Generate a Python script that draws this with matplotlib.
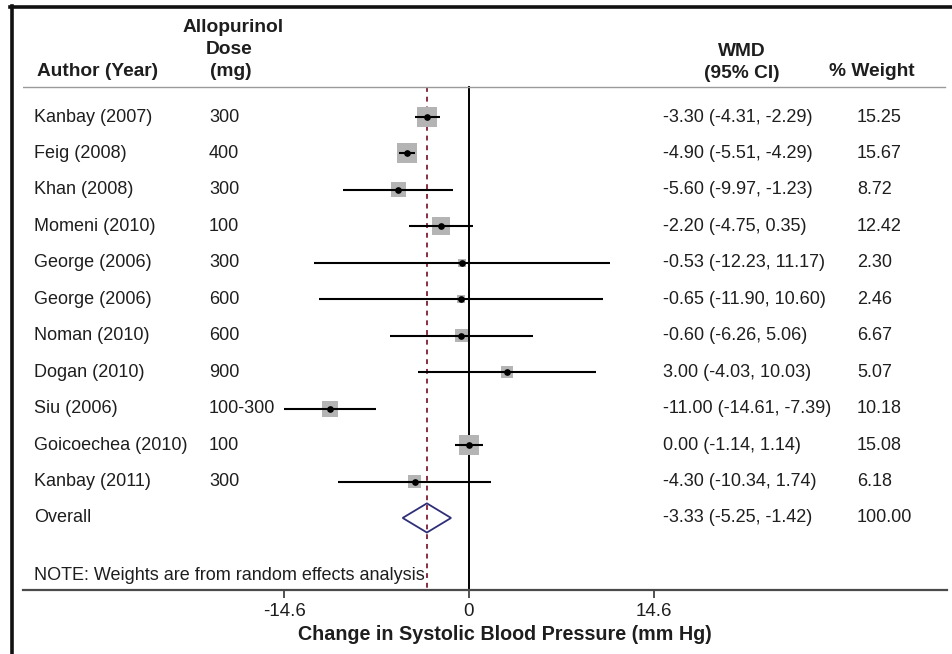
import numpy as np
import matplotlib
matplotlib.use("Agg")
import matplotlib.pyplot as plt
from matplotlib.lines import Line2D
from matplotlib.transforms import blended_transform_factory

plt.rcParams['font.family'] = ['Liberation Sans', 'DejaVu Sans']

# study data
authors = ["Kanbay (2007)", "Feig (2008)", "Khan (2008)", "Momeni (2010)",
           "George (2006)", "George (2006)", "Noman (2010)", "Dogan (2010)",
           "Siu (2006)", "Goicoechea (2010)", "Kanbay (2011)"]
doses = ["300", "400", "300", "100", "300", "600", "600", "900",
         "100-300", "100", "300"]
wmd = [-3.30, -4.90, -5.60, -2.20, -0.53, -0.65, -0.60, 3.00, -11.00, 0.00, -4.30]
ci_low = [-4.31, -5.51, -9.97, -4.75, -12.23, -11.90, -6.26, -4.03, -14.61, -1.14, -10.34]
ci_high = [-2.29, -4.29, -1.23, 0.35, 11.17, 10.60, 5.06, 10.03, -7.39, 1.14, 1.74]
weights = [15.25, 15.67, 8.72, 12.42, 2.30, 2.46, 6.67, 5.07, 10.18, 15.08, 6.18]

overall_wmd = -3.33
overall_low = -5.25
overall_high = -1.42
overall_weight = 100.00

ticks = [-14.6, 0, 14.6]

# layout (pixels of the 952x654 image)
W, H = 952, 654
ax_left_px, ax_right_px = 23, 947
zero_px, px_per_unit = 469, 12.64
row0_px, row_step = 117, 36.45

fig = plt.figure(figsize=(W / 100, H / 100), dpi=100)
ax = fig.add_axes([ax_left_px / W, 0, (ax_right_px - ax_left_px) / W, 1])
ax.set_xlim((ax_left_px - zero_px) / px_per_unit, (ax_right_px - zero_px) / px_per_unit)
ax.set_ylim((H - row0_px) / row_step, -row0_px / row_step)

def px_row(y):
    return (y - row0_px) / row_step

def fx(x):
    # pixel x -> axes fraction
    return (x - ax_left_px) / (ax_right_px - ax_left_px)

rows = np.arange(len(authors))
n = len(authors)
axis_row = px_row(590)
head_row = px_row(87)

tc = '#1e1e1e'
tr = blended_transform_factory(ax.transAxes, ax.transData)

# reference lines
ax.plot([0, 0], [head_row, axis_row], color='black', lw=1.4, zorder=2)
ax.plot([overall_wmd, overall_wmd], [head_row, axis_row], color='#8a2e42',
        lw=1.4, ls=(0, (2.5, 2.5)), zorder=2)

# squares sized by weight
side_px = 5.05 * np.sqrt(weights)
ax.scatter(wmd, rows, marker='s', s=(side_px * 0.72) ** 2, color='#b4b4b4',
           edgecolors='none', zorder=3)
ax.hlines(rows, ci_low, ci_high, color='black', lw=1.5, zorder=4)
ax.plot(wmd, rows, 'o', color='black', ms=3.8, zorder=5)

# overall diamond
dh = 0.4
ax.fill([overall_low, overall_wmd, overall_high, overall_wmd],
        [n, n - dh, n, n + dh], facecolor='none', edgecolor='#2f2f78', lw=1.3, zorder=5)

# table text
fs = 13
for i in range(n):
    ax.text(fx(34), i, authors[i], transform=tr, fontsize=fs, color=tc, va='center')
    ax.text(fx(209), i, doses[i], transform=tr, fontsize=fs, color=tc, va='center')
    ax.text(fx(663), i, f"{wmd[i]:.2f} ({ci_low[i]:.2f}, {ci_high[i]:.2f})",
            transform=tr, fontsize=fs, color=tc, va='center')
    ax.text(fx(857), i, f"{weights[i]:.2f}", transform=tr, fontsize=fs, color=tc, va='center')
ax.text(fx(34), n, "Overall", transform=tr, fontsize=fs, color=tc, va='center')
ax.text(fx(663), n, f"{overall_wmd:.2f} ({overall_low:.2f}, {overall_high:.2f})",
        transform=tr, fontsize=fs, color=tc, va='center')
ax.text(fx(857), n, f"{overall_weight:.2f}", transform=tr, fontsize=fs, color=tc, va='center')
ax.text(fx(34), px_row(576), "NOTE: Weights are from random effects analysis",
        transform=tr, fontsize=fs, color=tc, va='center')

# headers
hfs = 13.8
hk = dict(transform=tr, fontsize=hfs, color=tc, fontweight='bold', va='center')
ax.text(fx(37), px_row(72), "Author (Year)", **hk)
ax.text(fx(233), px_row(27), "Allopurinol", ha='center', **hk)
ax.text(fx(229), px_row(50), "Dose", ha='center', **hk)
ax.text(fx(210), px_row(72), "(mg)", **hk)
ax.text(fx(742), px_row(52), "WMD", ha='center', **hk)
ax.text(fx(742), px_row(73), "(95% CI)", ha='center', **hk)
ax.text(fx(829), px_row(72), "% Weight", **hk)

ax.plot([ax.get_xlim()[0], ax.get_xlim()[1] - 2 / px_per_unit], [head_row, head_row],
        color='#9a9a9a', lw=1.0)

# x axis
for s in ['top', 'left', 'right']:
    ax.spines[s].set_visible(False)
ax.spines['bottom'].set_position(('data', axis_row))
ax.spines['bottom'].set_color('#4a4a4a')
ax.spines['bottom'].set_linewidth(1.6)
ax.set_yticks([])
ax.set_xticks(ticks)
ax.set_xticklabels(['-14.6', '0', '14.6'])
ax.tick_params(axis='x', direction='out', length=6, width=1.2, color='#333333',
               labelsize=13.5, labelcolor=tc, pad=3)
ax.patch.set_visible(False)
ax.text(fx(505), px_row(634), "Change in Systolic Blood Pressure (mm Hg)", transform=tr,
        fontsize=14.2, fontweight='bold', color=tc, ha='center', va='center')

# outer frame (left and top only)
fig.add_artist(Line2D([11.5 / W, 11.5 / W], [0, 1 - 6 / H], color='#111111', lw=2.6,
                      transform=fig.transFigure))
fig.add_artist(Line2D([10 / W, 1], [1 - 6.5 / H, 1 - 6.5 / H], color='#111111', lw=2.6,
                      transform=fig.transFigure))

fig.savefig("out.png", dpi=100, facecolor='white')
